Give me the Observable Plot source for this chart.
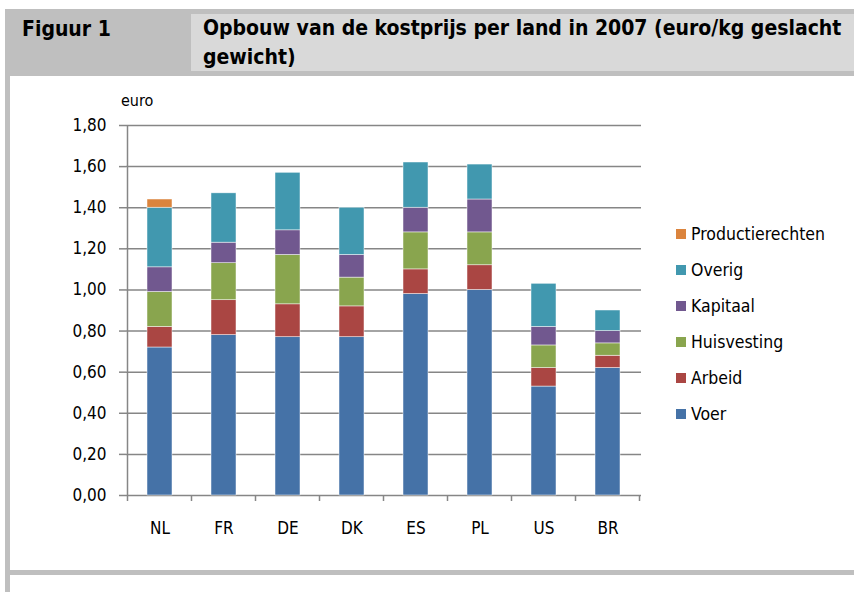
<!DOCTYPE html>
<html><head><meta charset="utf-8">
<script src="https://cdn.jsdelivr.net/npm/d3@7"></script>
<script src="https://cdn.jsdelivr.net/npm/@observablehq/plot@0.6"></script>
<style>
html,body{margin:0;padding:0;background:#fff;}
#page{position:relative;width:854px;height:592px;overflow:hidden;background:#fff;font-family:"Liberation Sans Narrow","DejaVu Sans Condensed","Liberation Sans",sans-serif;color:#000;}
.band{position:absolute;background:#bfbfbf;}
#hdr{left:5px;top:9px;width:849px;height:67px;}
#titlebox{position:absolute;left:191px;top:14px;width:663px;height:57px;background:#d9d9d9;}
#leftborder{left:5px;top:76px;width:5px;height:516px;}
#bottomband{left:5px;top:570px;width:849px;height:5px;}
#fig{position:absolute;left:22px;top:14px;font-weight:bold;font-size:21px;line-height:30px;white-space:nowrap;}
#title{position:absolute;left:203px;top:14px;font-weight:bold;font-size:21px;line-height:29px;white-space:nowrap;}
#chart{position:absolute;left:0;top:80px;}
#euro{position:absolute;left:121px;top:91px;font-size:16px;line-height:20px;}
#legend{position:absolute;left:676px;top:216px;}
.li{display:flex;align-items:center;height:36px;font-size:17.5px;}
.sw{width:10px;height:10px;margin-right:5px;}
</style>
</head><body>
<div id="page">
  <div id="hdr" class="band"></div>
  <div id="titlebox"></div>
  <div id="leftborder" class="band"></div>
  <div id="bottomband" class="band"></div>
  <div id="fig">Figuur 1</div>
  <div id="title">Opbouw van de kostprijs per land in 2007 (euro/kg geslacht<br>gewicht)</div>
  <div id="euro">euro</div>
  <div id="chart"></div>
  <div id="legend"></div>
</div>
<script>
const countries = ["NL","FR","DE","DK","ES","PL","US","BR"];
const categories = ["Voer","Arbeid","Huisvesting","Kapitaal","Overig","Productierechten"];
const colors = ["#4572a7","#aa4643","#89a54e","#71588f","#4198af","#db843d"];
const voer            = [0.72, 0.78, 0.77, 0.77, 0.98, 1.00, 0.53, 0.62];
const arbeid          = [0.10, 0.17, 0.16, 0.15, 0.12, 0.12, 0.09, 0.06];
const huisvesting     = [0.17, 0.18, 0.24, 0.14, 0.18, 0.16, 0.11, 0.06];
const kapitaal        = [0.12, 0.10, 0.12, 0.11, 0.12, 0.16, 0.09, 0.06];
const overig          = [0.29, 0.24, 0.28, 0.23, 0.22, 0.17, 0.21, 0.10];
const productierechten= [0.04, 0.00, 0.00, 0.00, 0.00, 0.00, 0.00, 0.00];
const yTicks = [0, 0.2, 0.4, 0.6, 0.8, 1.0, 1.2, 1.4, 1.6, 1.8];
const legendOrder = ["Productierechten","Overig","Kapitaal","Huisvesting","Arbeid","Voer"];

const series = [voer, arbeid, huisvesting, kapitaal, overig, productierechten];
const data = [];
countries.forEach((c, i) => categories.forEach((k, j) => data.push({country: c, cat: k, value: series[j][i]})));

const font = '"Liberation Sans Narrow","DejaVu Sans Condensed","Liberation Sans",sans-serif';
const gridColor = "#868686";
const chart = Plot.plot({
  width: 660, height: 470,
  marginLeft: 126, marginRight: 19, marginTop: 45, marginBottom: 55,
  style: {fontFamily: font, fontSize: "17px", color: "#000", background: "transparent", overflow: "visible"},
  x: {domain: countries, paddingInner: 0.607, paddingOuter: 0.3035, label: null},
  y: {domain: [0, 1.8], label: null},
  color: {domain: categories, range: colors},
  marks: [
    Plot.ruleY(yTicks, {stroke: gridColor, strokeWidth: 1.5}),
    Plot.barY(data, {x: "country", y: "value", fill: "cat", stroke: "#fff", strokeWidth: 0.6, strokeOpacity: 0.8}),
    Plot.axisY({ticks: yTicks, tickFormat: d => d.toFixed(2).replace(".", ","), tickSize: 7, tickPadding: 13, stroke: gridColor, strokeWidth: 1.5, label: null}),
    Plot.axisX({tickSize: 0, tickPadding: 26, label: null})
  ]
});
document.getElementById("chart").append(chart);

// axis line and category boundary ticks derived from the scales
const xs = chart.scale("x"), ys = chart.scale("y");
const step = xs.apply(countries[1]) - xs.apply(countries[0]);
const bw = xs.bandwidth != null ? xs.bandwidth : step * (1 - 0.607);
const x0 = xs.apply(countries[0]) - (step - bw) / 2;
const svg = d3.select(chart);
const g = svg.append("g").attr("stroke", gridColor).attr("stroke-width", 1.5);
g.append("line").attr("x1", x0).attr("x2", x0).attr("y1", ys.apply(0)).attr("y2", ys.apply(1.8));
for (let i = 0; i <= countries.length; i++) {
  const xx = x0 + i * step;
  g.append("line").attr("x1", xx).attr("x2", xx).attr("y1", ys.apply(0)).attr("y2", ys.apply(0) + 6);
}

// legend
const leg = document.getElementById("legend");
legendOrder.forEach(k => {
  const row = document.createElement("div"); row.className = "li";
  const sw = document.createElement("div"); sw.className = "sw";
  sw.style.background = colors[categories.indexOf(k)];
  const t = document.createElement("span"); t.textContent = k;
  row.append(sw, t); leg.append(row);
});
</script>
</body></html>
